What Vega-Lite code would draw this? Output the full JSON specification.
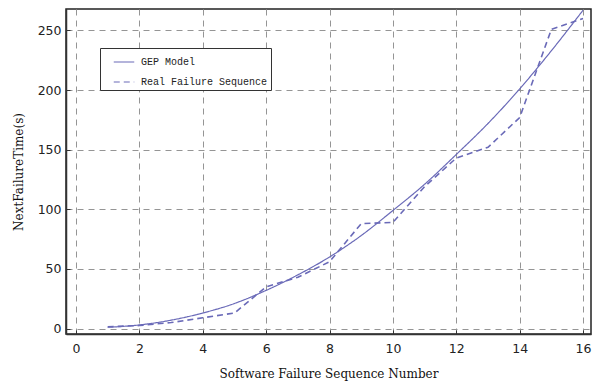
{
  "$schema": "https://vega.github.io/schema/vega-lite/v6.json",
  "width": 525,
  "height": 325,
  "autosize": {"type": "none"},
  "padding": {"left": 66, "top": 9, "right": 1, "bottom": 53},
  "background": "white",
  "config": {
    "view": {"stroke": "#222", "strokeWidth": 1.5},
    "axis": {
      "grid": true,
      "gridColor": "#959595",
      "gridDash": [6, 5],
      "gridWidth": 1,
      "domainColor": "#333",
      "domainWidth": 1.5,
      "tickColor": "#333",
      "tickSize": -4,
      "labelFont": "DejaVu Sans",
      "labelFontSize": 12.5,
      "labelColor": "#222",
      "titleFont": "DejaVu Serif",
      "titleFontSize": 12,
      "titleFontWeight": "normal",
      "titleColor": "#111"
    }
  },
  "data": {
    "values": [
      {"n": 1, "t": 1, "series": "GEP Model"},
      {"n": 2, "t": 3, "series": "GEP Model"},
      {"n": 3, "t": 7, "series": "GEP Model"},
      {"n": 4, "t": 13, "series": "GEP Model"},
      {"n": 5, "t": 21, "series": "GEP Model"},
      {"n": 6, "t": 32, "series": "GEP Model"},
      {"n": 7, "t": 45, "series": "GEP Model"},
      {"n": 8, "t": 60, "series": "GEP Model"},
      {"n": 9, "t": 78, "series": "GEP Model"},
      {"n": 10, "t": 99, "series": "GEP Model"},
      {"n": 11, "t": 121, "series": "GEP Model"},
      {"n": 12, "t": 146, "series": "GEP Model"},
      {"n": 13, "t": 172, "series": "GEP Model"},
      {"n": 14, "t": 201, "series": "GEP Model"},
      {"n": 15, "t": 233, "series": "GEP Model"},
      {"n": 16, "t": 267, "series": "GEP Model"},
      {"n": 1, "t": 1.5, "series": "Real Failure Sequence"},
      {"n": 2, "t": 2.5, "series": "Real Failure Sequence"},
      {"n": 3, "t": 5, "series": "Real Failure Sequence"},
      {"n": 4, "t": 9, "series": "Real Failure Sequence"},
      {"n": 5, "t": 13, "series": "Real Failure Sequence"},
      {"n": 6, "t": 35, "series": "Real Failure Sequence"},
      {"n": 7, "t": 43, "series": "Real Failure Sequence"},
      {"n": 8, "t": 56, "series": "Real Failure Sequence"},
      {"n": 9, "t": 88, "series": "Real Failure Sequence"},
      {"n": 10, "t": 89, "series": "Real Failure Sequence"},
      {"n": 11, "t": 119, "series": "Real Failure Sequence"},
      {"n": 12, "t": 143, "series": "Real Failure Sequence"},
      {"n": 13, "t": 152, "series": "Real Failure Sequence"},
      {"n": 14, "t": 177, "series": "Real Failure Sequence"},
      {"n": 15, "t": 251, "series": "Real Failure Sequence"},
      {"n": 16, "t": 260, "series": "Real Failure Sequence"}
    ]
  },
  "encoding": {
    "x": {
      "field": "n",
      "type": "quantitative",
      "scale": {"domain": [-0.316, 16.25], "nice": false, "zero": false},
      "axis": {
        "values": [0, 2, 4, 6, 8, 10, 12, 14, 16],
        "title": "Software Failure Sequence Number",
        "labelPadding": 12,
        "titlePadding": 14
      }
    },
    "y": {
      "field": "t",
      "type": "quantitative",
      "scale": {"domain": [-4.6, 268], "nice": false, "zero": false},
      "axis": {
        "values": [0, 50, 100, 150, 200, 250],
        "title": "NextFailureTime(s)",
        "labelPadding": 9,
        "titlePadding": 12
      }
    },
    "color": {
      "field": "series",
      "type": "nominal",
      "scale": {"domain": ["GEP Model", "Real Failure Sequence"], "range": ["#6a6ab8", "#6a6ab8"]},
      "legend": {
        "title": null,
        "orient": "none",
        "legendX": 34,
        "legendY": 39,
        "fillColor": "white",
        "strokeColor": "#333",
        "padding": 3,
        "symbolOffset": 10,
        "symbolType": "stroke",
        "symbolSize": 420,
        "symbolStrokeWidth": 1.2,
        "labelFont": "Liberation Mono",
        "labelFontSize": 10,
        "labelColor": "#222",
        "labelOffset": 6,
        "rowPadding": 4,
        "labelExpr": "datum.label + '\u00a0\u00a0'",
        "encode": {"symbols": {"update": {"stroke": {"value": "#333"}}}}
      }
    },
    "strokeDash": {
      "field": "series",
      "type": "nominal",
      "scale": {"domain": ["GEP Model", "Real Failure Sequence"], "range": [[1, 0], [6, 4]]},
      "legend": null
    }
  },
  "layer": [
    {
      "transform": [{"filter": "datum.series === 'GEP Model'"}],
      "mark": {"type": "line", "interpolate": "monotone", "strokeWidth": 1.2, "clip": true}
    },
    {
      "transform": [{"filter": "datum.series === 'Real Failure Sequence'"}],
      "mark": {"type": "line", "strokeWidth": 1.6, "clip": true}
    }
  ]
}
